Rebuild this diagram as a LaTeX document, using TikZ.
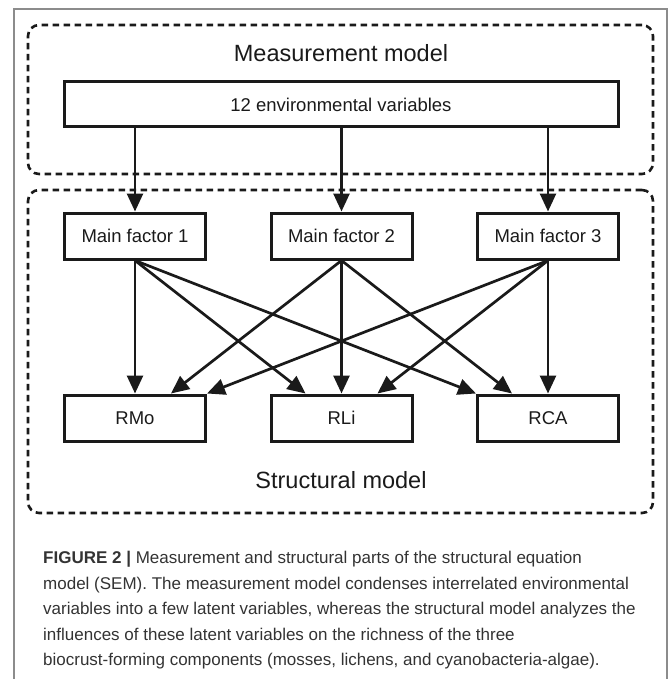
\documentclass[tikz,border=0pt]{standalone}
\usepackage{fontspec}
\setmainfont{Liberation Sans}
\usetikzlibrary{arrows.meta,calc}
\definecolor{ink}{HTML}{1A1A1A}
\definecolor{captxt}{HTML}{333333}
\definecolor{framegray}{HTML}{8C8C8C}
\begin{document}
\begin{tikzpicture}[x=1pt,y=-1pt,
  box/.style={draw=ink, line width=3pt, minimum width=141pt, minimum height=46pt, inner sep=0pt, font=\fontsize{18.5}{22}\selectfont, text=ink},
  region/.style={draw=ink, line width=2.6pt, dash pattern=on 6.5pt off 4.5pt, rounded corners=11pt, inner sep=0pt},
  arr/.style={draw=ink, line width=2.7pt, -{Triangle[length=18pt,width=16pt]}},
  title/.style={font=\fontsize{23.5}{28}\selectfont, text=ink, inner sep=0pt},
  capline/.style={anchor=base west, inner sep=0pt, font=\fontsize{17}{20}\selectfont, text=captxt},
  frameline/.style={draw=framegray, line width=1.2pt}]
\useasboundingbox (0,0) rectangle (669,679);
\draw[frameline] (14,679) -- (14,9) -- (667,9) -- (667,679);

% regions
\node[region, minimum width=625pt, minimum height=149pt] (measbox) at (340.5,99.5) {};
\node[region, minimum width=625pt, minimum height=323pt] (structbox) at (340.5,351.5) {};

\node[title] (meastitle) at (341,53) {Measurement model};
\node[title] (structtitle) at (341,480) {Structural model};

\node[box, minimum width=554pt, minimum height=45pt] (env) at (341,104.5) {12 environmental variables};

\node[box] (mf1) at (135,236) {Main factor 1};
\node[box] (mf2) at (341.5,236) {Main factor 2};
\node[box] (mf3) at (548,236) {Main factor 3};

\node[box] (rmo) at (135,418) {RMo};
\node[box] (rli) at (341.5,418) {RLi};
\node[box] (rca) at (548,418) {RCA};

% measurement arrows
\draw[arr] (mf1.north |- env.south) -- (mf1.north);
\draw[arr] (mf2.north |- env.south) -- (mf2.north);
\draw[arr] (mf3.north |- env.south) -- (mf3.north);

% structural arrows
\draw[arr] (mf1.south) -- (rmo.north);
\draw[arr] (mf1.south) -- ($(rli.north)+(-36,0)$);
\draw[arr] (mf1.south) -- (rca.north west);
\draw[arr] (mf2.south) -- ($(rmo.north)+(36,0)$);
\draw[arr] (mf2.south) -- (rli.north);
\draw[arr] (mf2.south) -- ($(rca.north)+(-36,0)$);
\draw[arr] (mf3.south) -- (rmo.north east);
\draw[arr] (mf3.south) -- ($(rli.north)+(36,0)$);
\draw[arr] (mf3.south) -- (rca.north);

% caption
\node[capline] (cap1) at (43,563.5) {\textbf{FIGURE 2 |} Measurement and structural parts of the structural equation};
\node[capline] (cap2) at (43,589) {model (SEM). The measurement model condenses interrelated environmental};
\node[capline] (cap3) at (43,614.5) {variables into a few latent variables, whereas the structural model analyzes the};
\node[capline] (cap4) at (43,640) {influences of these latent variables on the richness of the three};
\node[capline] (cap5) at (43,665) {biocrust-forming components (mosses, lichens, and cyanobacteria-algae).};
\end{tikzpicture}
\end{document}
